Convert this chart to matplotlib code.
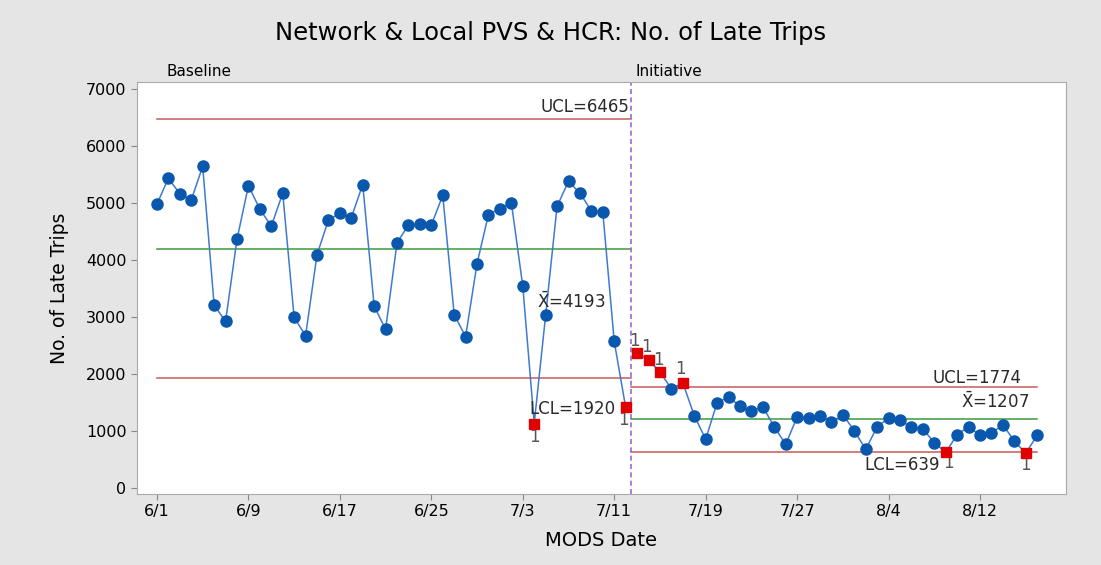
import matplotlib.pyplot as plt
import numpy as np

# daily late trips, 6/1 - 8/17
baseline = [4980, 5430, 5160, 5050, 5640, 3210, 2920, 4360, 5300, 4890,
            4590, 5170, 2990, 2670, 4090, 4700, 4820, 4740, 5320, 3190,
            2780, 4300, 4610, 4630, 4610, 5130, 3040, 2655, 3935, 4795,
            4900, 5005, 3540, 1130, 3030, 4940, 5375, 5170, 4860, 4840,
            2570, 1415]
initiative = [2370, 2240, 2035, 1740, 1845, 1270, 855, 1495, 1595, 1435,
              1350, 1420, 1075, 765, 1245, 1235, 1270, 1150, 1285, 1005,
              675, 1075, 1225, 1185, 1070, 1035, 795, 625, 935, 1075,
              925, 960, 1110, 820, 610, 925]
# points flagged by test 1 (0-based, whole series)
flagged = [33, 41, 42, 43, 44, 46, 69, 76]

stage_names = ["Baseline", "Initiative"]
ucl = [6465, 1774]
center = [4193, 1207]
lcl = [1920, 639]

tick_labels = ["6/1", "6/9", "6/17", "6/25", "7/3", "7/11", "7/19", "7/27", "8/4", "8/12"]

values = np.array(baseline + initiative)
day = np.arange(len(values))
nb = len(baseline)

plt.rcParams['font.family'] = ['DejaVu Sans']

fig = plt.figure(figsize=(11.01, 5.65), dpi=100, facecolor="#e5e5e5")
ax = fig.add_axes([0.1244, 0.1257, 0.8436, 0.7293])
ax.set_facecolor("white")

blue_line = "#3d7ad0"
blue_pt = "#0a58ad"
red_pt = "#e00000"
limit_red = "#c8585a"
mean_green = "#3a9a3a"

stages = [(0, nb - 1), (nb, len(values) - 1)]
for k, (a, b) in enumerate(stages):
    x = day[a:b + 1]
    y = values[a:b + 1]
    ax.plot(x, y, color=blue_line, lw=1.1, zorder=2)
    ok = [i for i in range(a, b + 1) if i not in flagged]
    ax.plot(day[ok], values[ok], 'o', color=blue_pt, ms=8, zorder=3)
    # limits
    x0 = a - 0.5 if k == 1 else a
    x1 = b + 0.5 if k == 0 else b
    ax.plot([x0, x1], [ucl[k], ucl[k]], color=limit_red, lw=1.1, zorder=1)
    ax.plot([x0, x1], [lcl[k], lcl[k]], color=limit_red, lw=1.1, zorder=1)
    ax.plot([x0, x1], [center[k], center[k]], color=mean_green, lw=1.1, zorder=1)

ax.plot(day[flagged], values[flagged], 's', color=red_pt, ms=7, zorder=4)

# stage boundary
ax.axvline(nb - 0.5, color="#9a6ad6", ls=(0, (3, 2)), lw=1.2, zorder=1)

lab = dict(fontsize=12, color="#2a2a2a")
ax.text(41.3, ucl[0] + 60, "UCL=6465", ha="right", va="bottom", **lab)
ax.text(39.2, 3263, r"$\bar{\mathrm{X}}$=4193", ha="right", va="center", **lab)
ax.text(40.1, 1386, "LCL=1920", ha="right", va="center", **lab)
ax.text(75.6, 1930, "UCL=1774", ha="right", va="center", **lab)
ax.text(76.3, 1509, r"$\bar{\mathrm{X}}$=1207", ha="right", va="center", **lab)
ax.text(68.5, 404, "LCL=639", ha="right", va="center", **lab)

one = dict(fontsize=12, color="#555555", ha="center", va="center")
ax.text(day[33], 895, "1", **one)
ax.text(day[41] - 0.2, 1193, "1", **one)
ax.text(day[42] - 0.2, 2579, "1", **one)
ax.text(day[43] - 0.2, 2474, "1", **one)
ax.text(day[44] - 0.1, 2245, "1", **one)
ax.text(day[46] - 0.2, 2088, "1", **one)
ax.text(day[69] + 0.2, 440, "1", **one)
ax.text(day[76], 404, "1", **one)

ax.set_xlim(-1.75, 79.5)
ax.set_ylim(-105, 7120)
ax.set_yticks(np.arange(0, 7001, 1000))
ax.set_xticks(np.arange(0, len(tick_labels) * 8, 8))
ax.set_xticklabels(tick_labels)
ax.tick_params(labelsize=11.5, length=4, color="#888888")
for s in ax.spines.values():
    s.set_color("#aaaaaa")

ax.set_xlabel("MODS Date", fontsize=14, labelpad=8)
ax.set_ylabel("No. of Late Trips", fontsize=13.5, labelpad=12)
fig.suptitle("Network & Local PVS & HCR: No. of Late Trips", fontsize=17.5, y=0.962)

# stage names above the axes
ax.text(0.8, 1.008, stage_names[0], transform=ax.get_xaxis_transform(), fontsize=11, va="bottom")
ax.text(nb - 0.1, 1.008, stage_names[1], transform=ax.get_xaxis_transform(), fontsize=11, va="bottom")

fig.savefig("out.png", dpi=100, facecolor=fig.get_facecolor())
